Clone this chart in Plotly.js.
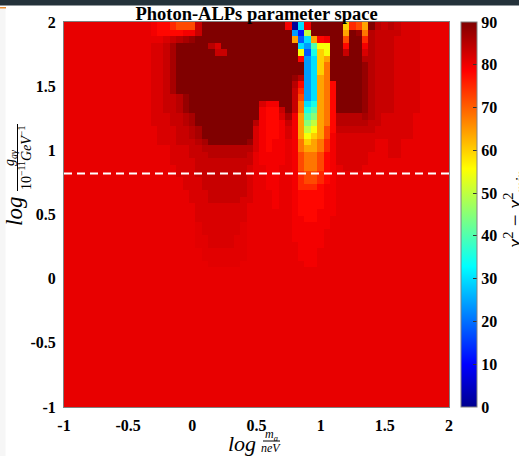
<!DOCTYPE html>
<html>
<head>
<meta charset="utf-8">
<script src="https://cdn.plot.ly/plotly-3.0.1.min.js"></script>
<style>
html,body{margin:0;padding:0;background:#ffffff;}
#chart{width:519px;height:456px;}
</style>
</head>
<body>
<div id="chart"></div>
<script>
// ---- data ----
// each cell character is a chi^2 - chi^2_min level (see levelChars / levelValues)
const levelChars  = "0123456789abcdefghHijklmn";
const levelValues = [1,12,18,24,30,35,40,45,50,55,60,64,68,72,75,78,79.6,80.6,81.2,82,83.5,85,86.5,88,90];

// rows from top (log g = 2) to bottom (log g = -1); columns log m = -1 ... 2 (step 0.05)
const gridRows = [
"hhhhhhhhhh hhhhgffedd djnnnnnnnn nnnnng04gn nnnnaedbnk jkjiiihhhh h",
"hhhhhhhhhh hhhhgffedd djnnnnnnnn nnnnng04gn nnnnaedbnk jkjiiihhhh h",
"hhhhhhhhhh hhhhgffffg gjnnnnnnnn nnnnnn318n nnnnbnmckj jjjiiihhhh h",
"hhhhhhhhhh hhhhhhijkl mnnnnnnnnn nnnnnnb24b fgnndnnekj jjiiiihhhh h",
"hhhhhhhhhh hhhhiijlnn nnnkinnnnn nnnnnnn436 99nnfnngkj jjiiiihhhh h",
"hhhhhhhhhh hhhhiijlnn nnnnjjnnnn nnnnnnn925 a9nnjnnikj jjiiiihhhh h",
"hhhhhhhhhh hhhhiijlnn nnnnnnnnnn nnnnnnnf34 abnnnnnkkj jjiiiihhhh h",
"hhhhhhhhhh hhhhiijlnn nnnnnnnnnn nnnnnnnn34 acnnnnnmkj jjiiiihhhh h",
"hhhhhhhhhh hhhhiijlnn nnnnnnnnnn nnnnnnnn34 acnnnnnmkj jjiiiihhhh h",
"hhhhhhhhhh hhhhiijlnn nnnnnnnnnn nnnnnnmk34 bcnnnnnmkj jjiiiihhhh h",
"hhhhhhhhhh hhhhiijlnn nnnnnnnnnn nnnnnnkf34 bcfnnnnmkj jjiiiihhhh h",
"hhhhhhhhhh hhhhiijlnn nnnnnnnnnn nnnnnnje34 bcfnnnnmkj jjiiiihhhh h",
"hhhhhhhhhh hhhhiijjkm nnnnnnnnnn nnnnnnjd34 bcfnnnnmkj jjiiiihhhh h",
"hhhhhhhhhh hhhhiijjkm nnnnnnnnnn niggnnjc45 bcfnnnnmkj jjiiiihhhh h",
"hhhhhhhhhh hhhhiijjkm nnnnnnnnnn ngffjnjc56 bcfnnnnmkj jjiiiihhhh h",
"hhhhhhhhhh hhhhiiijjk lnnnnnnnnn ngffilgb67 bcfkkkklkj iiiiihhhhh h",
"hhhhhhhhhh hhhhiiijjk lnnnnnnnnn kgffgjgb78 bcfkkkkkjj iiiiihhhhh h",
"hhhhhhhhhh hhhhhiiijj klnnnnnnnn igffgigb89 bdfjjjjjji iiiiihhhhh h",
"hhhhhhhhhh hhhhhiiijj klnnnnnnnn igffgigb9a bdgiiiiiii iiiiihhhhh h",
"hhhhhhhhhh hhhhhiiijj jklnnnnnnm igfgghgcab cegiiiiiih hiihhhhhhh h",
"hhhhhhhhhh hhhhhhhiii jjkkkkkkkk igfgghgcbb cegiiiiiih hiihhhhhhh h",
"hhhhhhhhhh hhhhhhhiii jjjkkkkkkj hgggghgdcc dfgiiiiihh hiihhhhhhh h",
"hhhhhhhhhh hhhhhhhiii ijjjjjjjjj hgggghgdcc dfgiiiiihh hhhhhhhhhh h",
"hhhhhhhhhh hhhhhhhhii ijjjjjjjji hhgghhgdcc dfghiiihhh hhhhhhhhhh h",
"hhhhhhhhhh hhhhhhhhii ijjjjjjjji hhgghhgedd efghhhhhhh hhhhhhhhhh h",
"hhhhhhhhhh hhhhhhhhhi iijjjjjjji hhgghhgedd efghhhhhhh hhhhhhhhhh h",
"hhhhhhhhhh hhhhhhhhhi iijjjjjjji hhgghhgeee fgghhhhhhh hhhhhhhhhh h",
"hhhhhhhhhh hhhhhhhhhh iiijjjjjji hhhghhgfff fgghhhhhhh hhhhhhhhhh h",
"hhhhhhhhhh hhhhhhhhhh iiijjjjjii hhhghhgfff fgghhhhhhh hhhhhhhhhh h",
"hhhhhhhhhh hhhhhhhhhh hiiiiiiiih hhhghhgfff fgghhhhhhh hhhhhhhhhh h",
"hhhhhhhhhh hhhhhhhhhh hiiiiiiiih hhhhhhgfff ggghhhhhhh hhhhhhhhhh h",
"hhhhhhhhhh hhhhhhhhhh hiiiiiiiih hhhhhhggff gghhhhhhhh hhhhhhhhhh h",
"hhhhhhhhhh hhhhhhhhhh hHiiiiiiHh hhhhhhgggg gghhhhhhhh hhhhhhhhhh h",
"hhhhhhhhhh hhhhhhhhhh hHiiiiiiHh hhhhhhgggg ghhhhhhhhh hhhhhhhhhh h",
"hhhhhhhhhh hhhhhhhhhh hHHiiiiHHh hhhhhhgggg ghhhhhhhhh hhhhhhhhhh h",
"hhhhhhhhhh hhhhhhhhhh hHHiiiiHHh hhhhhhhggg ghhhhhhhhh hhhhhhhhhh h",
"hhhhhhhhhh hhhhhhhhhh hhHHHHHHHh hhhhhhhggg hhhhhhhhhh hhhhhhhhhh h",
"hhhhhhhhhh hhhhhhhhhh hhHHHHHHHh hhhhhhhggg hhhhhhhhhh hhhhhhhhhh h",
"hhhhhhhhhh hhhhhhhhhh hhhHHHHHhh hhhhhhhhgg hhhhhhhhhh hhhhhhhhhh h",
"hhhhhhhhhh hhhhhhhhhh hhhhhhhhhh hhhhhhhhhh hhhhhhhhhh hhhhhhhhhh h",
"hhhhhhhhhh hhhhhhhhhh hhhhhhhhhh hhhhhhhhhh hhhhhhhhhh hhhhhhhhhh h",
"hhhhhhhhhh hhhhhhhhhh hhhhhhhhhh hhhhhhhhhh hhhhhhhhhh hhhhhhhhhh h",
"hhhhhhhhhh hhhhhhhhhh hhhhhhhhhh hhhhhhhhhh hhhhhhhhhh hhhhhhhhhh h",
"hhhhhhhhhh hhhhhhhhhh hhhhhhhhhh hhhhhhhhhh hhhhhhhhhh hhhhhhhhhh h",
"hhhhhhhhhh hhhhhhhhhh hhhhhhhhhh hhhhhhhhhh hhhhhhhhhh hhhhhhhhhh h",
"hhhhhhhhhh hhhhhhhhhh hhhhhhhhhh hhhhhhhhhh hhhhhhhhhh hhhhhhhhhh h",
"hhhhhhhhhh hhhhhhhhhh hhhhhhhhhh hhhhhhhhhh hhhhhhhhhh hhhhhhhhhh h",
"hhhhhhhhhh hhhhhhhhhh hhhhhhhhhh hhhhhhhhhh hhhhhhhhhh hhhhhhhhhh h",
"hhhhhhhhhh hhhhhhhhhh hhhhhhhhhh hhhhhhhhhh hhhhhhhhhh hhhhhhhhhh h",
"hhhhhhhhhh hhhhhhhhhh hhhhhhhhhh hhhhhhhhhh hhhhhhhhhh hhhhhhhhhh h",
"hhhhhhhhhh hhhhhhhhhh hhhhhhhhhh hhhhhhhhhh hhhhhhhhhh hhhhhhhhhh h",
"hhhhhhhhhh hhhhhhhhhh hhhhhhhhhh hhhhhhhhhh hhhhhhhhhh hhhhhhhhhh h",
"hhhhhhhhhh hhhhhhhhhh hhhhhhhhhh hhhhhhhhhh hhhhhhhhhh hhhhhhhhhh h",
"hhhhhhhhhh hhhhhhhhhh hhhhhhhhhh hhhhhhhhhh hhhhhhhhhh hhhhhhhhhh h",
"hhhhhhhhhh hhhhhhhhhh hhhhhhhhhh hhhhhhhhhh hhhhhhhhhh hhhhhhhhhh h",
"hhhhhhhhhh hhhhhhhhhh hhhhhhhhhh hhhhhhhhhh hhhhhhhhhh hhhhhhhhhh h",
"hhhhhhhhhh hhhhhhhhhh hhhhhhhhhh hhhhhhhhhh hhhhhhhhhh hhhhhhhhhh h",
"hhhhhhhhhh hhhhhhhhhh hhhhhhhhhh hhhhhhhhhh hhhhhhhhhh hhhhhhhhhh h",
"hhhhhhhhhh hhhhhhhhhh hhhhhhhhhh hhhhhhhhhh hhhhhhhhhh hhhhhhhhhh h",
"hhhhhhhhhh hhhhhhhhhh hhhhhhhhhh hhhhhhhhhh hhhhhhhhhh hhhhhhhhhh h",
"hhhhhhhhhh hhhhhhhhhh hhhhhhhhhh hhhhhhhhhh hhhhhhhhhh hhhhhhhhhh h"
];

const xStart = -1, xStep = 0.05;       // log(m_a/neV) grid
const yTop = 2.0125, yStep = 0.05;      // log(g/1e-11 GeV^-1) grid (cell centres)
const tickVals = [-1, -0.5, 0, 0.5, 1, 1.5, 2];
const tickText = ["-1", "-0.5", "0", "0.5", "1", "1.5", "2"];
const cbTickVals = [0, 10, 20, 30, 40, 50, 60, 70, 80, 90];
const castLimit = 0.82;                  // dashed reference line
const zRange = [0, 90];

// ---- build the matrix ----
const nCols = 61;
const xs = [];
for (let i = 0; i < nCols; i++) xs.push(Math.round((xStart + xStep * i) * 10000) / 10000);
const ysTopDown = [];
const zTopDown = [];
gridRows.forEach((row, j) => {
  let s = row.replace(/\s+/g, "");
  if (s.length !== nCols) { console.warn("row", j, "len", s.length); s = (s + "h".repeat(nCols)).slice(0, nCols); }
  zTopDown.push(Array.from(s).map(c => levelValues[levelChars.indexOf(c)]));
  ysTopDown.push(Math.round((yTop - yStep * j) * 10000) / 10000);
});
const ys = ysTopDown.slice().reverse();
const zs = zTopDown.slice().reverse();

const jet = [
  [0, "rgb(0,0,143)"], [0.111, "rgb(0,0,255)"], [0.365, "rgb(0,255,255)"],
  [0.619, "rgb(255,255,0)"], [0.873, "rgb(255,0,0)"], [1, "rgb(128,0,0)"]
];

const serif = "Liberation Serif, Times New Roman, serif";

// pixel helpers for the plot box (64..449 x 22..407)
const PX0 = 64, PX1 = 449, PY0 = 22, PY1 = 407;
const px2x = p => (p - PX0) / (PX1 - PX0);
const py2y = p => (PY1 - p) / (PY1 - PY0);

const heat = {
  type: "heatmap",
  x: xs, y: ys, z: zs,
  zmin: zRange[0], zmax: zRange[1],
  colorscale: jet,
  zsmooth: false,
  hoverinfo: "skip",
  colorbar: {
    x: px2x(461), xanchor: "left", xref: "paper",
    y: 0.5, yanchor: "middle", len: 1, lenmode: "fraction",
    thickness: 16, thicknessmode: "pixels",
    xpad: 0, ypad: 0,
    outlinewidth: 1, outlinecolor: "#808080",
    tickmode: "array", tickvals: cbTickVals,
    ticks: "inside", ticklen: 4, tickcolor: "#333333",
    tickfont: {family: serif, size: 16, color: "#000", weight: "bold"}
  }
};

const line = {
  type: "scatter", mode: "lines",
  x: [tickVals[0], tickVals[tickVals.length - 1]], y: [castLimit, castLimit],
  line: {color: "#ffffff", width: 2, dash: "8px,5px"},
  hoverinfo: "skip", showlegend: false
};

const axisCommon = {
  range: [-1, 2], tickmode: "array", tickvals: tickVals, ticktext: tickText,
  showgrid: false, zeroline: false, ticks: "",
  showline: true, mirror: true, linecolor: "#808080", linewidth: 1,
  tickfont: {family: serif, size: 16, color: "#000", weight: "bold"}
};

const layout = {
  width: 519, height: 456,
  margin: {l: PX0, r: 519 - PX1, t: PY0, b: 456 - PY1, pad: 0},
  paper_bgcolor: "#ffffff", plot_bgcolor: "#ffffff",
  showlegend: false,
  title: {
    text: "Photon-ALPs parameter space",
    font: {family: serif, size: 18.5, color: "#000", weight: "bold"},
    x: 0.5, xref: "paper", xanchor: "center",
    y: 1 - 14 / 456, yref: "container", yanchor: "middle"
  },
  xaxis: Object.assign({}, axisCommon, {ticklabelstandoff: 4}),
  yaxis: Object.assign({}, axisCommon, {ticklabelstandoff: 4}),
  annotations: [
    // y-axis label: log (g_aγ / 10^-11 GeV^-1)
    {xref: "paper", yref: "paper", x: px2x(14), y: py2y(212), text: "<i>log</i>", textangle: -90,
     showarrow: false, font: {family: serif, size: 23, color: "#000"}, xanchor: "center", yanchor: "middle"},
    {xref: "paper", yref: "paper", x: px2x(10), y: py2y(158), text: "<i>g</i><sub><i>aγ</i></sub>", textangle: -90,
     showarrow: false, font: {family: serif, size: 14, color: "#000"}, xanchor: "center", yanchor: "middle"},
    {xref: "paper", yref: "paper", x: px2x(25), y: py2y(158), text: "10<sup>−11</sup><i>GeV</i><sup>−1</sup>", textangle: -90,
     showarrow: false, font: {family: serif, size: 14, color: "#000"}, xanchor: "center", yanchor: "middle"},
    // x-axis label: log (m_a / neV)
    {xref: "paper", yref: "paper", x: px2x(242), y: py2y(443), text: "<i>log</i>",
     showarrow: false, font: {family: serif, size: 22, color: "#000"}, xanchor: "center", yanchor: "middle"},
    {xref: "paper", yref: "paper", x: px2x(271), y: py2y(435), text: "<i>m</i><sub><i>a</i></sub>",
     showarrow: false, font: {family: serif, size: 12, color: "#000"}, xanchor: "center", yanchor: "middle"},
    {xref: "paper", yref: "paper", x: px2x(271), y: py2y(447.5), text: "<i>neV</i>",
     showarrow: false, font: {family: serif, size: 12, color: "#000"}, xanchor: "center", yanchor: "middle"},
    // colorbar label
    {xref: "paper", yref: "paper", x: px2x(514), y: py2y(210), text: "<i>χ</i><sup>2</sup> − <i>χ</i><sup>2</sup><sub><i>min</i></sub>",
     textangle: -90, showarrow: false, font: {family: serif, size: 21, color: "#000"}, xanchor: "center", yanchor: "middle"}
  ],
  shapes: [
    // fraction bars
    {type: "line", xref: "paper", yref: "paper", x0: px2x(17.5), x1: px2x(17.5), y0: py2y(124), y1: py2y(191),
     line: {color: "#000", width: 1}},
    {type: "line", xref: "paper", yref: "paper", x0: px2x(263), x1: px2x(280), y0: py2y(441), y1: py2y(441),
     line: {color: "#000", width: 1}},
    // screenshot frame details
    {type: "rect", xref: "paper", yref: "paper", x0: px2x(0), x1: px2x(519), y0: py2y(5.5), y1: py2y(-1),
     fillcolor: "rgb(36,50,58)", line: {width: 0}, layer: "above"},
    {type: "rect", xref: "paper", yref: "paper", x0: px2x(0), x1: px2x(5.5), y0: py2y(456), y1: py2y(8.5),
     fillcolor: "rgb(246,246,246)", line: {width: 0}, layer: "below"},
    {type: "rect", xref: "paper", yref: "paper", x0: px2x(0), x1: px2x(6), y0: py2y(8.5), y1: py2y(7),
     fillcolor: "rgb(230,140,50)", line: {width: 0}, layer: "above"}
  ]
};

Plotly.newPlot("chart", [heat, line], layout, {displayModeBar: false, staticPlot: true});
</script>
</body>
</html>
